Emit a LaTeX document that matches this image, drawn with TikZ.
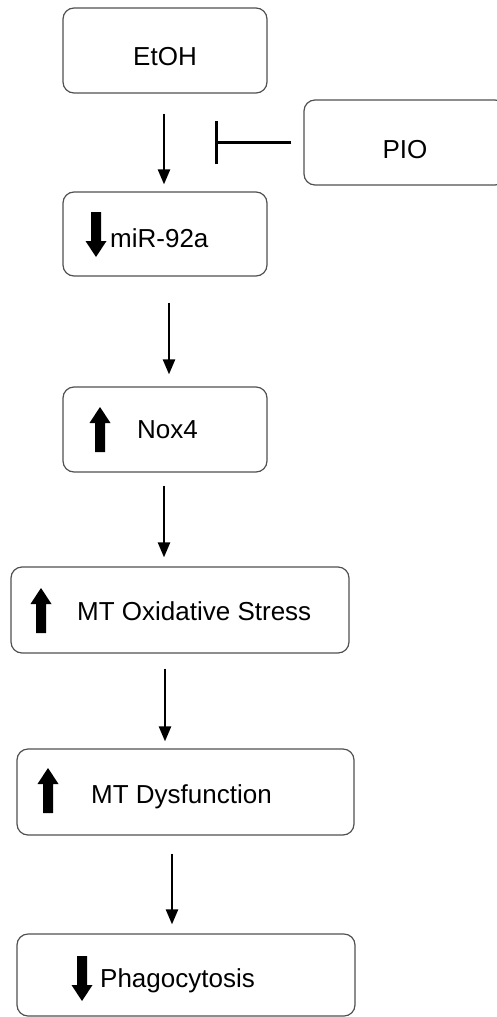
\documentclass[tikz,border=0pt]{standalone}
\usepackage{fontspec}
\setmainfont{Liberation Sans}
\usetikzlibrary{arrows.meta}
\definecolor{boxgray}{HTML}{505050}
\tikzset{
  box/.style={draw=boxgray, line width=1.2pt, rounded corners=11pt, inner sep=0pt},
  lbl/.style={inner sep=0pt, font=\fontsize{26}{30}\selectfont},
  conn/.style={line width=2.4pt, -{Triangle[width=12pt,length=15pt]}},
  inhib/.style={line width=2.8pt, -{Bar[width=43pt]}},
  blkup/.pic={\fill (0,0) -- (10.5,16) -- (5,16) -- (5,45) -- (-5,45) -- (-5,16) -- (-10.5,16) -- cycle;},
  blkdown/.pic={\fill (-5,0) -- (5,0) -- (5,29) -- (10.5,29) -- (0,45) -- (-10.5,29) -- (-5,29) -- cycle;}
}
\begin{document}
\begin{tikzpicture}[x=1pt,y=-1pt]
\useasboundingbox (0,0) rectangle (497,1017);
\clip (0,0) rectangle (497,1017);
% boxes
\node[box, minimum width=204pt, minimum height=85pt] (etoh) at (165,50.5) {};
\node[box, minimum width=202pt, minimum height=85pt] (pio) at (405,142.5) {};
\node[box, minimum width=204pt, minimum height=84pt] (mir) at (165,234) {};
\node[box, minimum width=204pt, minimum height=85pt] (nox) at (165,429.5) {};
\node[box, minimum width=338pt, minimum height=86pt] (mtox) at (180,610) {};
\node[box, minimum width=337pt, minimum height=86pt] (mtd) at (185.5,792) {};
\node[box, minimum width=338pt, minimum height=82pt] (phago) at (186,975) {};
% labels
\node[lbl, anchor=base] (tetoh) at (165,65) {EtOH};
\node[lbl, anchor=base] (tpio) at (405,158) {PIO};
\node[lbl, anchor=base west] (tmir) at (110,247) {miR-92a};
\node[lbl, anchor=base west] (tnox) at (137,438) {Nox4};
\node[lbl, anchor=base west] (tmtox) at (77,620) {MT Oxidative Stress};
\node[lbl, anchor=base west] (tmtd) at (91,803) {MT Dysfunction};
\node[lbl, anchor=base west] (tphago) at (100,987) {Phagocytosis};
% block arrows
\pic at (96,212) {blkdown};
\pic at (100,407) {blkup};
\pic at (41,588) {blkup};
\pic at (48,768) {blkup};
\pic at (82,956) {blkdown};
% connectors
\draw[conn, shorten <=20pt, shorten >=7pt] ([xshift=-1pt]etoh.south) -- ([xshift=-1pt]mir.north);
\draw[conn, shorten <=26pt, shorten >=12pt] ([xshift=4pt]mir.south) -- ([xshift=4pt]nox.north);
\draw[conn, shorten <=13pt, shorten >=9pt] ([xshift=-1pt]nox.south) -- ([xshift=-1pt]nox.south |- mtox.north);
\draw[conn, shorten <=15pt, shorten >=7pt] (nox.south |- mtox.south) -- (nox.south |- mtd.north);
\draw[conn, shorten <=18pt, shorten >=9pt] ([xshift=7pt]nox.south |- mtd.south) -- ([xshift=7pt]nox.south |- phago.north);
% inhibition
\coordinate (inh) at (215,142.5);
\draw[inhib, shorten <=12pt] (pio.west) -- (inh);
\end{tikzpicture}
\end{document}
